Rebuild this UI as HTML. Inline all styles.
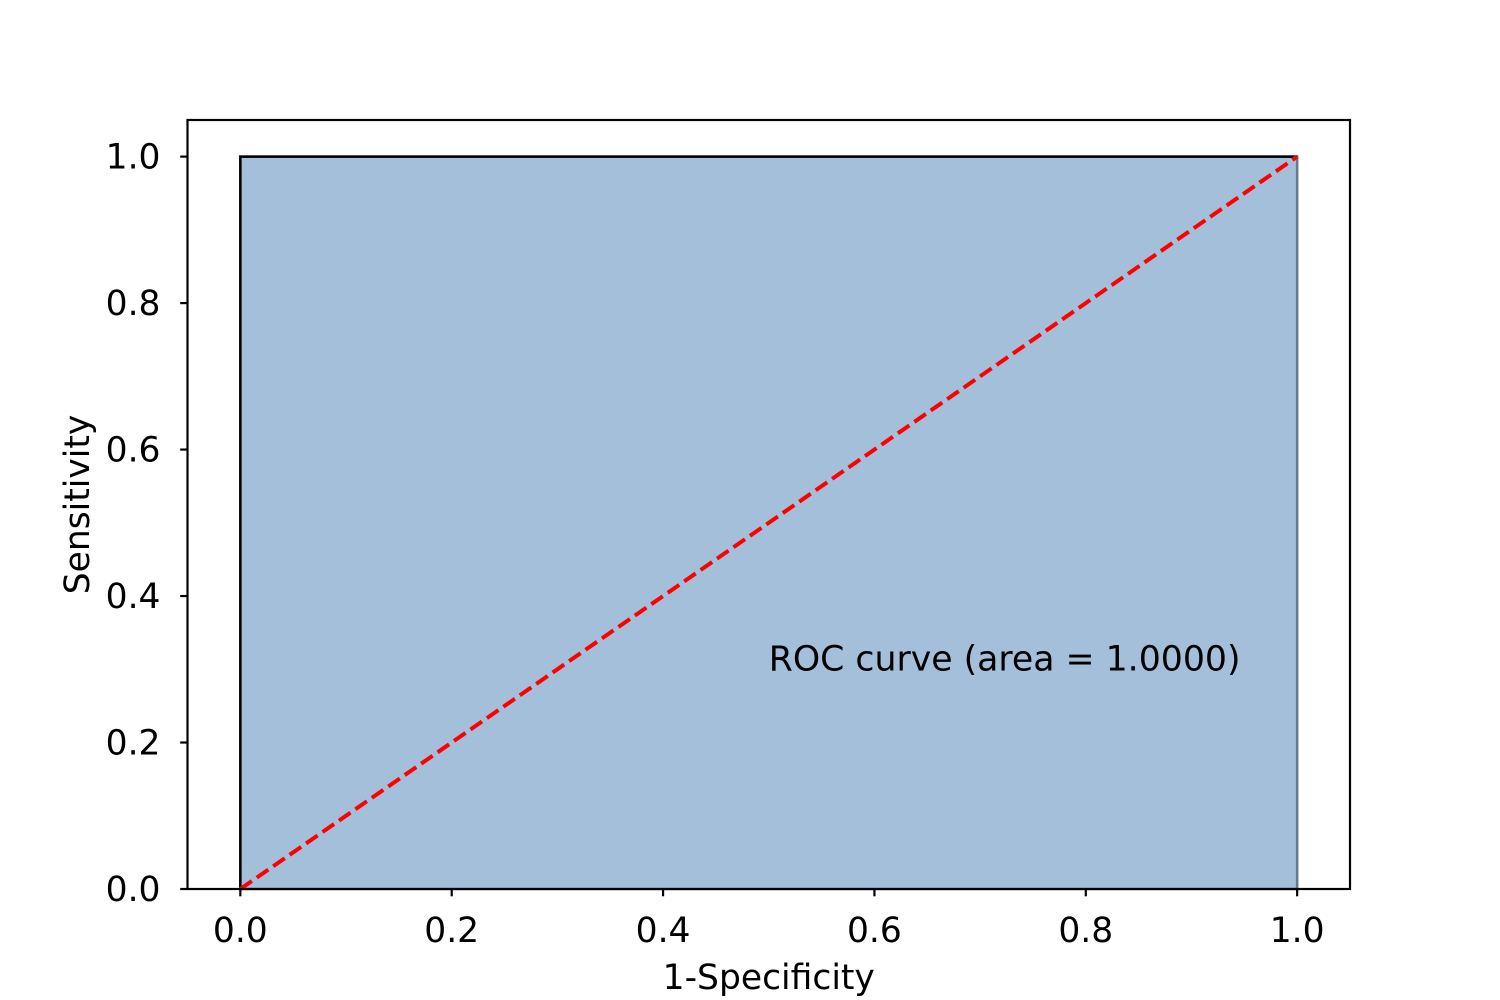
<!DOCTYPE html>
<html><head><meta charset="utf-8"><style>body{margin:0;background:#fff}svg{display:block}text{font-family:"DejaVu Sans","Liberation Sans",sans-serif;fill:#000}</style></head>
<body>
<svg id="chart" width="1500" height="1000" xmlns="http://www.w3.org/2000/svg"></svg>
<script>
const fpr=[0,0,1];
const tpr=[0,1,1];
const diagX=[0,1];
const diagY=[0,1];
const xTicks=[0,0.2,0.4,0.6,0.8,1.0];
const yTicks=[0,0.2,0.4,0.6,0.8,1.0];
const tickLabels=["0.0","0.2","0.4","0.6","0.8","1.0"];
const annotation="ROC curve (area = 1.0000)";
const annX=0.5, annY=0.3;
const L=187.5,R=1350,T=120,B=889;
const xmin=-0.05,xmax=1.05,ymin=0,ymax=1.05;
const FS=34.5;
const sx=v=>L+(v-xmin)/(xmax-xmin)*(R-L);
const sy=v=>B-(v-ymin)/(ymax-ymin)*(B-T);
const svg=document.getElementById('chart');
const NS="http://www.w3.org/2000/svg";
function mk(tag,attrs,parent){const e=document.createElementNS(NS,tag);for(const k in attrs)e.setAttribute(k,attrs[k]);(parent||svg).appendChild(e);return e;}
let d="M"+sx(fpr[0])+","+sy(0);
fpr.forEach((x,i)=>{d+=" L"+sx(x)+","+sy(tpr[i]);});
d+=" L"+sx(fpr[fpr.length-1])+","+sy(0)+" Z";
const fill=mk('path',{d:d,fill:'#a3bfd9',stroke:'#66788a','stroke-width':2.5});


const line=mk('polyline',{points:fpr.map((x,i)=>sx(x)+","+sy(tpr[i])).join(" "),fill:'none',stroke:'#000','stroke-width':2.5});


const diag=mk('line',{x1:sx(diagX[0]),y1:sy(diagY[0]),x2:sx(diagX[1]),y2:sy(diagY[1]),stroke:'#ff0000','stroke-width':4,'stroke-dasharray':'14,6'});


const ann=mk('text',{x:sx(annX),y:sy(annY)+1,'font-size':34.7});
ann.textContent=annotation;


const frame=mk('rect',{x:L,y:T,width:R-L,height:B-T,fill:'none',stroke:'#000','stroke-width':2.2});


xTicks.forEach((v,i)=>{
  const t=mk('line',{x1:sx(v),x2:sx(v),y1:B,y2:B+7.3,stroke:'#000','stroke-width':2.2});
  
  
  const l=mk('text',{x:sx(v),y:B+53,'text-anchor':'middle','font-size':FS});
  l.textContent=tickLabels[i];
  
  
});
yTicks.forEach((v,i)=>{
  const t=mk('line',{x1:L-7.3,x2:L,y1:sy(v),y2:sy(v),stroke:'#000','stroke-width':2.2});
  
  
  const l=mk('text',{x:L-27,y:sy(v)+12,'text-anchor':'end','font-size':FS});
  l.textContent=tickLabels[i];
  
  
});
const xt=mk('text',{x:(L+R)/2,y:989,'text-anchor':'middle','font-size':FS});
xt.textContent="1-Specificity";


const yt=mk('text',{x:0,y:0,'text-anchor':'middle','font-size':FS,transform:`translate(89,${(T+B)/2}) rotate(-90)`});
yt.textContent="Sensitivity";


</script>
</body></html>
